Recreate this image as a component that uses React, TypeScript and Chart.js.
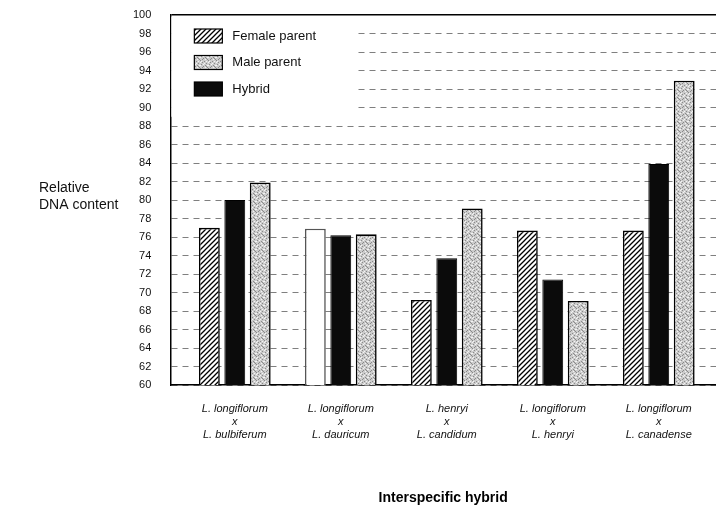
import React, { useEffect, useRef } from "react";
import { Chart, registerables } from "chart.js";

Chart.register(...registerables);

const FONT = "'Liberation Sans', Arial, Helvetica, sans-serif";

const categories: string[][] = [
  ["L. longiflorum", "x", "L. bulbiferum"],
  ["L. longiflorum", "x", "L. dauricum"],
  ["L. henryi", "x", "L. candidum"],
  ["L. longiflorum", "x", "L. henryi"],
  ["L. longiflorum", "x", "L. canadense"],
];
const femaleParent = [77.0, 76.9, 69.2, 76.7, 76.7];
const hybrid = [80.0, 76.2, 73.7, 71.4, 83.9];
const maleParent = [81.9, 76.3, 79.1, 69.1, 92.9];
const yMin = 60;
const yMax = 100;
const yStep = 2;
const legendLabels = ["Female parent", "Male parent", "Hybrid"];
const xTitle = "Interspecific hybrid";
const yTitle = ["Relative", "DNA content"];

function makeHatch(): CanvasPattern | string {
  const c = document.createElement("canvas");
  c.width = 5;
  c.height = 5;
  const g = c.getContext("2d");
  if (!g) return "#fff";
  g.fillStyle = "#fff";
  g.fillRect(0, 0, 5, 5);
  g.strokeStyle = "#000";
  g.lineWidth = 1.3;
  g.beginPath();
  g.moveTo(0, 5);
  g.lineTo(5, 0);
  g.moveTo(-1, 1);
  g.lineTo(1, -1);
  g.moveTo(4, 6);
  g.lineTo(6, 4);
  g.stroke();
  return g.createPattern(c, "repeat") || "#fff";
}

function makeStipple(): CanvasPattern | string {
  const c = document.createElement("canvas");
  c.width = 8;
  c.height = 8;
  const g = c.getContext("2d");
  if (!g) return "#c4c4c4";
  g.fillStyle = "#cccccc";
  g.fillRect(0, 0, 8, 8);
  const dark = [[1, 0], [5, 1], [3, 2], [7, 3], [0, 4], [4, 5], [2, 6], [6, 7], [6, 2], [2, 3]];
  const light = [[3, 0], [0, 1], [7, 1], [5, 3], [1, 5], [6, 5], [4, 7], [0, 6]];
  g.fillStyle = "#8a8a8a";
  dark.forEach(([x, y]) => g.fillRect(x, y, 1, 1));
  g.fillStyle = "#f4f4f4";
  light.forEach(([x, y]) => g.fillRect(x, y, 1, 1));
  return g.createPattern(c, "repeat") || "#c4c4c4";
}

export default function App() {
  const ref = useRef<HTMLCanvasElement | null>(null);

  useEffect(() => {
    if (!ref.current) return;
    const hatch = makeHatch();
    const stipple = makeStipple();
    const femaleFill = femaleParent.map((_, i) => (i === 1 ? "#ffffff" : hatch));
    const femaleBorder = femaleParent.map((_, i) => (i === 1 ? "#555555" : "#000000"));

    const decor = {
      id: "decor",
      afterDraw(chart: any) {
        const { ctx, chartArea, scales } = chart;
        const y = scales.y;
        ctx.save();
        // blank area behind the legend
        const top = chartArea.top + 1.5;
        const bottom = y.getPixelForValue(89);
        ctx.fillStyle = "#ffffff";
        ctx.fillRect(chartArea.left + 1, top, 185, bottom - top);

        // legend
        const order = [0, 2, 1];
        const swatchX = chartArea.left + 24;
        order.forEach((dsIndex, k) => {
          const ds = chart.data.datasets[dsIndex];
          const sy = chartArea.top + 14 + k * 26.5;
          const bg = Array.isArray(ds.backgroundColor) ? ds.backgroundColor[0] : ds.backgroundColor;
          ctx.fillStyle = bg;
          ctx.fillRect(swatchX, sy, 28, 14);
          ctx.strokeStyle = "#000";
          ctx.lineWidth = 1.2;
          ctx.strokeRect(swatchX, sy, 28, 14);
          ctx.fillStyle = "#111";
          ctx.font = `13px ${FONT}`;
          ctx.textBaseline = "middle";
          ctx.textAlign = "left";
          ctx.fillText(legendLabels[k], swatchX + 38, sy + 7);
        });

        // y-axis title (horizontal)
        ctx.fillStyle = "#111";
        ctx.font = `14px ${FONT}`;
        ctx.textAlign = "left";
        ctx.textBaseline = "middle";
        yTitle.forEach((t, i) => ctx.fillText(t, 39, 188 + i * 17));
        ctx.restore();
      },
    };

    const chart = new Chart(ref.current, {
      type: "bar",
      data: {
        datasets: [
          {
            label: legendLabels[0],
            data: femaleParent.map((v, i) => ({ x: i + 1, y: v })),
            backgroundColor: femaleFill as any,
            borderColor: femaleBorder,
            borderWidth: 1.6,
          },
          {
            label: legendLabels[2],
            data: hybrid.map((v, i) => ({ x: i + 1, y: v })),
            backgroundColor: "#0b0b0b",
            borderColor: "#000",
            borderWidth: 1,
          },
          {
            label: legendLabels[1],
            data: maleParent.map((v, i) => ({ x: i + 1, y: v })),
            backgroundColor: stipple as any,
            borderColor: "#000",
            borderWidth: 1.6,
          },
        ],
      },
      options: {
        animation: false,
        responsive: true,
        maintainAspectRatio: false,
        categoryPercentage: 0.72,
        barPercentage: 0.82,
        layout: { padding: { left: 131, top: 15, right: 0, bottom: 7 } },
        plugins: {
          legend: { display: false },
          tooltip: { enabled: false },
        },
        scales: {
          x: {
            type: "linear",
            offset: false,
            min: 0.392,
            max: 5.54,
            afterBuildTicks: (s: any) => {
              s.ticks = categories.map((_, i) => ({ value: i + 1 }));
            },
            ticks: {
              callback: (v: any) => categories[Math.round(Number(v)) - 1] ?? "",
              font: { family: FONT, size: 11, style: "italic" },
              color: "#111",
              padding: 17,
              autoSkip: false,
              maxRotation: 0,
            },
            grid: { display: false, drawTicks: false, offset: false },
            border: { color: "#000", width: 1.5 },
            title: {
              display: true,
              text: xTitle,
              font: { family: FONT, size: 14, weight: "bold" },
              color: "#000",
              padding: { top: 31.5, bottom: 4 },
            },
          },
          y: {
            min: yMin,
            max: yMax,
            ticks: {
              stepSize: yStep,
              font: { family: FONT, size: 11 },
              color: "#111",
              padding: 2,
            },
            grid: {
              drawTicks: true,
              tickLength: 17,
              tickColor: "rgba(0,0,0,0)",
              color: (c: any) => (c.tick && c.tick.value === yMax ? "#000" : "rgba(0,0,0,0.5)"),
              lineWidth: (c: any) => (c.tick && c.tick.value === yMax ? 1.5 : 1),
            },
            border: {
              color: "#000",
              width: 1.5,
              dash: (c: any) => (c.tick && c.tick.value !== yMax ? [6, 5] : []),
            },
          },
        },
      } as any,
      plugins: [decor],
    });
    return () => chart.destroy();
  }, []);

  return (
    <div style={{ position: "fixed", left: 0, top: 0, width: 716, height: 518, background: "#fff" }}>
      <canvas ref={ref} />
    </div>
  );
}
